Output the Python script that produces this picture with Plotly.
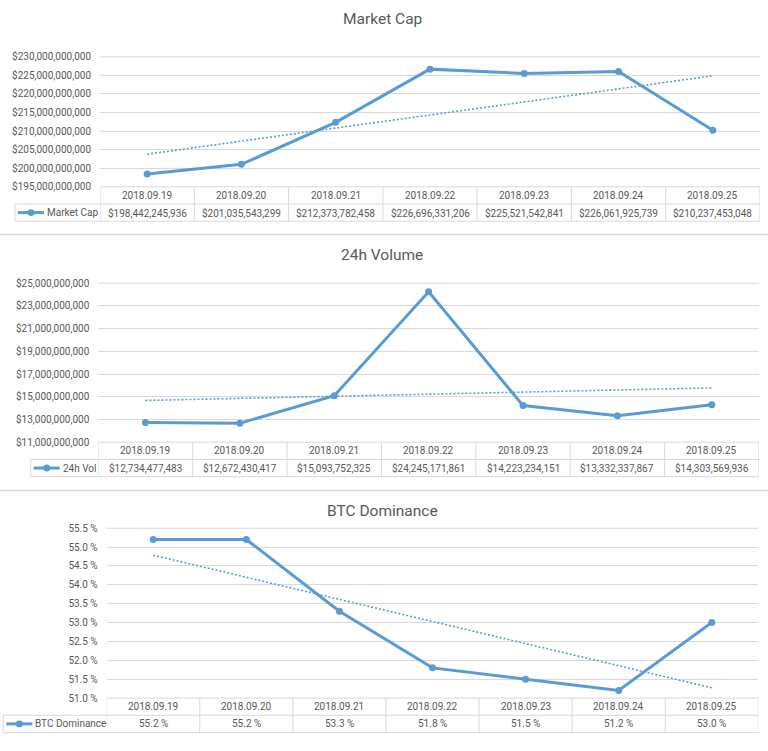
import numpy as np
import plotly.graph_objects as go

# data
dates = ['2018.09.19', '2018.09.20', '2018.09.21', '2018.09.22',
         '2018.09.23', '2018.09.24', '2018.09.25']
market_cap = [198442245936, 201035543299, 212373782458, 226696331206,
              225521542841, 226061925739, 210237453048]
volume_24h = [12734477483, 12672430417, 15093752325, 24245171861,
              14223234151, 13332337867, 14303569936]
btc_dominance = [55.2, 55.2, 53.3, 51.8, 51.5, 51.2, 53.0]

BLUE = '#5B9BD5'
GRID = '#D9D9D9'
TEXT = '#595959'
FONT = 'Roboto'
W, H = 768, 751


def px(x):
    return x / W


def py(y):
    return 1 - y / H


def label(x, y, text, size=10, xref='paper', xanchor='center'):
    return dict(x=x, xref=xref, y=y, yref='paper', text=text, showarrow=False,
                xanchor=xanchor, yanchor='middle',
                font=dict(family=FONT, size=size, color=TEXT))


# pixel layout of each chart block
panels = [
    dict(title='Market Cap', name='Market Cap', values=market_cap,
         labels=['${:,}'.format(v) for v in market_cap],
         rng=[195e9, 230e9], dtick=5e9, fmt='$,.0f', suffix='',
         left=100, right=760, top=51.7, bottom=183.7, cell=15, title_y=13),
    dict(title='24h Volume', name='24h Vol', values=volume_24h,
         labels=['${:,}'.format(v) for v in volume_24h],
         rng=[11e9, 25e9], dtick=2e9, fmt='$,.0f', suffix='',
         left=98.3, right=759, top=281.7, bottom=443.3, cell=30.7, title_y=253),
    dict(title='BTC Dominance', name='BTC Dominance', values=btc_dominance,
         labels=['{:.1f} %'.format(v) for v in btc_dominance],
         rng=[51, 55.5], dtick=0.5, fmt='.1f', suffix=' %',
         left=106.7, right=758.3, top=530.7, bottom=703.3, cell=3.3, title_y=513),
]
ROW = 17.5

fig = go.Figure()
shapes = []
annotations = []
layout = {}

for i, p in enumerate(panels):
    n = '' if i == 0 else str(i + 1)
    xa, ya = 'x' + n, 'y' + n
    xs = list(range(len(dates)))

    fig.add_trace(go.Scatter(
        x=dates, y=p['values'], xaxis=xa, yaxis=ya, mode='lines+markers',
        line=dict(color=BLUE, width=3), marker=dict(color=BLUE, size=7),
        showlegend=False, hoverinfo='x+y'))

    # linear trendline like Excel's
    slope, icpt = np.polyfit(xs, p['values'], 1)
    trend = [slope * x + icpt for x in xs]
    fig.add_trace(go.Scatter(
        x=dates, y=trend, xaxis=xa, yaxis=ya, mode='lines',
        line=dict(color=BLUE, width=1.6, dash='2px,2px'),
        showlegend=False, hoverinfo='skip'))

    layout['xaxis' + n] = dict(
        domain=[px(p['left']), px(p['right'])], anchor=ya,
        range=[-0.5, 6.5], type='category', categoryorder='array',
        categoryarray=dates, showgrid=False, showticklabels=False,
        zeroline=False, showline=False, fixedrange=True)
    layout['yaxis' + n] = dict(
        domain=[py(p['bottom']), py(p['top'])], anchor=xa,
        range=p['rng'], dtick=p['dtick'], tick0=p['rng'][0],
        tickformat=p['fmt'], ticksuffix=p['suffix'],
        showgrid=True, gridcolor=GRID, gridwidth=1, zeroline=False,
        showline=False, ticks='', ticklabelstandoff=8,
        tickfont=dict(family=FONT, size=10, color=TEXT), fixedrange=True)

    b = p['bottom']
    # table grid
    for k in range(len(dates) + 1):
        shapes.append(dict(type='line', xref=xa, yref='paper',
                           x0=k - 0.5, x1=k - 0.5, y0=py(b), y1=py(b + 2 * ROW),
                           line=dict(color=GRID, width=1)))
    for yy in (b, p['top']):
        shapes.append(dict(type='line', xref='paper', yref='paper',
                           x0=px(p['left']), x1=px(p['right']), y0=py(yy), y1=py(yy),
                           line=dict(color=GRID, width=1)))
    for yy in (b + ROW, b + 2 * ROW):
        shapes.append(dict(type='line', xref='paper', yref='paper',
                           x0=px(p['cell']), x1=px(p['right']), y0=py(yy), y1=py(yy),
                           line=dict(color=GRID, width=1)))
    shapes.append(dict(type='line', xref='paper', yref='paper',
                       x0=px(p['cell']), x1=px(p['cell']),
                       y0=py(b + ROW), y1=py(b + 2 * ROW),
                       line=dict(color=GRID, width=1)))

    for d, lab in zip(dates, p['labels']):
        annotations.append(label(d, py(b + ROW / 2), d, xref=xa))
        annotations.append(label(d, py(b + 1.5 * ROW), lab, xref=xa))

    # legend key inside the table
    ly = b + 1.5 * ROW
    lx0 = p['cell'] + 3
    shapes.append(dict(type='line', xref='paper', yref='paper',
                       x0=px(lx0), x1=px(lx0 + 26), y0=py(ly), y1=py(ly),
                       line=dict(color=BLUE, width=3)))
    shapes.append(dict(type='circle', xref='paper', yref='paper',
                       x0=px(lx0 + 13 - 3.5), x1=px(lx0 + 13 + 3.5),
                       y0=py(ly + 3.5), y1=py(ly - 3.5),
                       fillcolor=BLUE, line=dict(color=BLUE, width=0)))
    annotations.append(label(px(lx0 + 27), py(ly), p['name'], xanchor='left'))

    annotations.append(label(px(382), py(p['title_y']), p['title'], size=15.5))

# separators between the chart blocks
for yy in (232.3, 492.3):
    shapes.append(dict(type='line', xref='paper', yref='paper',
                       x0=0, x1=1, y0=py(yy), y1=py(yy),
                       line=dict(color=GRID, width=1.5)))

fig.update_layout(
    width=W, height=H,
    margin=dict(l=0, r=0, t=0, b=0),
    paper_bgcolor='white', plot_bgcolor='white',
    shapes=shapes, annotations=annotations,
    **layout)

page_css = (
    "var s=document.createElement('style');"
    "s.innerHTML='html,body{margin:0;padding:0;overflow:hidden;height:751px;}';"
    "document.head.appendChild(s);"
)
fig.write_html('out.html', config={'displayModeBar': False}, post_script=page_css)
